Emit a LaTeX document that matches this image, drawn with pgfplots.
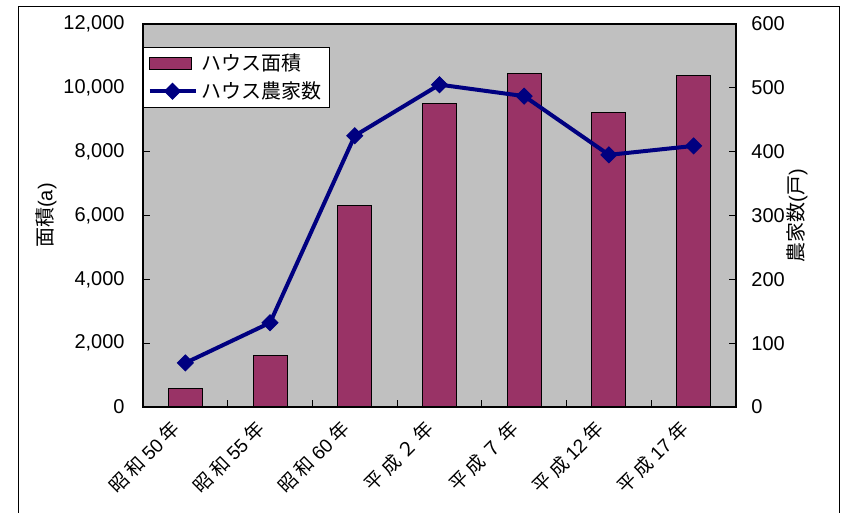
\documentclass[border=0pt]{standalone}
\usepackage{fontspec}
\setmainfont{Liberation Sans}
\newfontfamily\jp{Noto Sans CJK JP}
\usepackage{pgfplots}
\pgfplotsset{compat=1.18}
\definecolor{barc}{HTML}{993366}
\definecolor{linec}{HTML}{000080}
\definecolor{bgc}{HTML}{C0C0C0}
\newcommand{\jsp}{\hspace{0.22em}}
\pgfplotsset{
  barleg/.style={legend image code/.code={\draw[fill=barc,draw=black,line width=0.5pt] (0pt,-3pt) rectangle (21pt,3pt);}},
  lineleg/.style={legend image code/.code={\draw[##1, mark repeat=2, mark phase=2] plot coordinates {(0pt,0pt) (11.5pt,0pt) (23pt,0pt)};}},
}
\begin{document}
\begin{tikzpicture}
\begin{axis}[
  at={(71.5pt,53pt)}, anchor=south west,
  scale only axis, width=296.5pt, height=191.5pt,
  xmin=-0.5, xmax=6.5, ymin=0, ymax=12000,
  axis background/.style={fill=bgc},
  axis line style={black, line width=0.6pt},
  tick style={black, line width=0.5pt},
  tick align=inside, major tick length=3.5pt, minor tick length=3.5pt,
  xtick={0,...,6},
  xticklabels={{{\jp 昭\jsp 和\jsp}50{\jp\jsp 年}},{{\jp 昭\jsp 和\jsp}55{\jp\jsp 年}},{{\jp 昭\jsp 和\jsp}60{\jp\jsp 年}},{{\jp 平\jsp 成\jsp ２\jsp 年}},{{\jp 平\jsp 成\jsp ７\jsp 年}},{{\jp 平\jsp 成\jsp}12{\jp\jsp 年}},{{\jp 平\jsp 成\jsp}17{\jp\jsp 年}}},
  major x tick style={draw=none},
  minor xtick={0.5,1.5,...,5.5},
  xtick pos=bottom, ytick pos=left,
  ytick={0,2000,...,12000},
  scaled y ticks=false,
  /pgf/number format/.cd, 1000 sep={,}, assume math mode=true, /pgfplots/.cd,
  yticklabel style={inner sep=0pt, xshift=-9pt, font=\fontsize{10}{12}\selectfont},
  xticklabel style={xshift=-4.5pt, yshift=-9pt, rotate=45, anchor=east, inner sep=0pt, font=\fontsize{9.5}{11}\selectfont},
  ylabel={{\jp 面積}(a)},
  ylabel style={at={(axis description cs:-0.1636,0.5)}, anchor=center, font=\fontsize{10}{12}\selectfont},
]
\addplot[ybar, bar width=0.4, fill=barc, draw=black, line width=0.5pt]
  coordinates {(0,595) (1,1600) (2,6300) (3,9500) (4,10440) (5,9215) (6,10400)};
\end{axis}
\begin{axis}[
  at={(71.5pt,53pt)}, anchor=south west,
  scale only axis, width=296.5pt, height=191.5pt,
  xmin=-0.5, xmax=6.5, ymin=0, ymax=600,
  axis x line=none, axis y line*=right,
  axis line style={black, line width=0.6pt},
  tick style={black, line width=0.5pt},
  tick align=inside, major tick length=3.5pt,
  ytick={0,100,...,600},
  /pgf/number format/.cd, assume math mode=true, /pgfplots/.cd,
  yticklabel style={inner sep=0pt, xshift=7.5pt, font=\fontsize{10}{12}\selectfont},
  ylabel={{\jp 農家数}({\jp 戸})},
  ylabel style={at={(axis description cs:1.1029,0.5)}, anchor=center, font=\fontsize{10}{12}\selectfont},
  legend style={at={(0,1)}, anchor=north west, yshift=-11.5pt, draw=black, line width=0.5pt, fill=white,
    font=\fontsize{10}{12}\selectfont, inner xsep=2pt, inner ysep=1pt, row sep=0pt},
  legend cell align=left,
]
\addlegendimage{barleg}
\addlegendentry{\jp ハウス面積}
\addplot[linec, line width=2pt, mark=square*, mark size=2.8pt, mark options={rotate=45, solid, line width=0.5pt}, lineleg]
  coordinates {(0,69) (1,132) (2,425) (3,505) (4,487) (5,395) (6,409)};
\addlegendentry{\jp ハウス農家数}
\end{axis}
\draw[black, line width=0.5pt] (9pt,-5pt) -- (9pt,253.25pt) -- (419.5pt,253.25pt) -- (419.5pt,-5pt);
\pgfresetboundingbox
\useasboundingbox (0,0) rectangle (421.5pt,256.5pt);
\end{tikzpicture}
\end{document}
